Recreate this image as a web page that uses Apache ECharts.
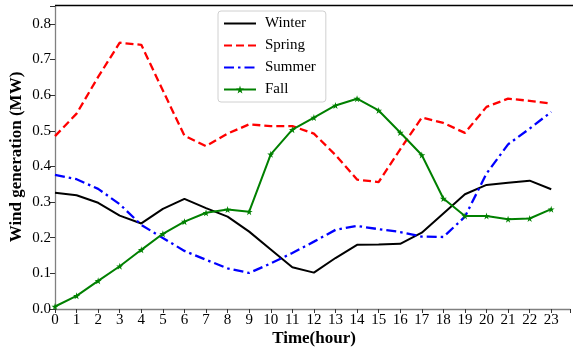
<!DOCTYPE html>
<html>
<head>
<meta charset="utf-8">
<script src="https://cdn.jsdelivr.net/npm/echarts@6/dist/echarts.min.js"></script>
<style>
html,body{margin:0;padding:0;background:#fff;}
#chart{width:573px;height:350px;}
</style>
</head>
<body>
<div id="chart"></div>
<script>
var hours = [0,1,2,3,4,5,6,7,8,9,10,11,12,13,14,15,16,17,18,19,20,21,22,23];
var winter = [0.326,0.319,0.298,0.262,0.240,0.281,0.309,0.283,0.259,0.217,0.167,0.117,0.102,0.143,0.180,0.181,0.183,0.214,0.268,0.322,0.348,0.354,0.360,0.336];
var spring = [0.485,0.548,0.651,0.747,0.741,0.613,0.486,0.457,0.492,0.518,0.513,0.513,0.492,0.432,0.363,0.356,0.448,0.537,0.522,0.494,0.567,0.590,0.584,0.576];
var summer = [0.376,0.364,0.337,0.294,0.236,0.199,0.163,0.138,0.114,0.101,0.128,0.157,0.189,0.222,0.233,0.224,0.216,0.203,0.202,0.259,0.380,0.462,0.506,0.553];
var fall = [0.007,0.037,0.079,0.120,0.166,0.211,0.245,0.270,0.279,0.273,0.434,0.503,0.537,0.571,0.590,0.557,0.495,0.432,0.310,0.261,0.261,0.252,0.254,0.280];
var seriesNames = ['Winter','Spring','Summer','Fall'];

function pairs(arr){ return hours.map(function(h,i){ return [h, arr[i]]; }); }
var star = 'path://M50,0 L61,35 L98,35 L68,57 L79,91 L50,70 L21,91 L32,57 L2,35 L39,35 Z';
var font = 'Liberation Serif';

var chart = echarts.init(document.getElementById('chart'), null, {renderer:'canvas'});
chart.setOption({
  animation:false,
  backgroundColor:'#fff',
  grid:{left:55, right:0, top:6, bottom:41},
  xAxis:{
    type:'value', min:0, max:23.87, interval:1,
    axisLine:{show:true, lineStyle:{color:'#808080', width:1.3}},
    axisTick:{show:true, inside:false, length:4, lineStyle:{color:'#333', width:1}},
    axisLabel:{color:'#000', fontFamily:font, fontSize:15, margin:4,
      formatter:function(v){ return Math.abs(v-Math.round(v))<1e-6 ? String(Math.round(v)) : ''; }},
    splitLine:{show:false}
  },
  yAxis:{
    type:'value', min:0, max:0.85, interval:0.1,
    axisLine:{show:true, lineStyle:{color:'#808080', width:1.3}},
    axisTick:{show:true, inside:false, length:5, lineStyle:{color:'#333', width:1}},
    axisLabel:{color:'#000', fontFamily:font, fontSize:15, margin:4,
      formatter:function(v){ return Math.abs(v*10-Math.round(v*10))<1e-6 ? v.toFixed(1) : ''; }},
    splitLine:{show:false}
  },
  legend:{
    left:218, top:11, orient:'vertical',
    itemWidth:32, itemHeight:10, itemGap:7,
    backgroundColor:'#fff', borderColor:'#d0d0d0', borderWidth:1, borderRadius:3,
    padding:[5,10,5,5],
    textStyle:{fontFamily:font, fontSize:15, color:'#000', padding:[0,0,0,4]},
    data:[
      {name:seriesNames[0], itemStyle:{opacity:0}},
      {name:seriesNames[1], itemStyle:{opacity:0}},
      {name:seriesNames[2], itemStyle:{opacity:0}},
      {name:seriesNames[3]}
    ]
  },
  graphic:[
    {type:'line', shape:{x1:55, y1:5.5, x2:573, y2:5.5}, style:{stroke:'#000', lineWidth:1.4}, z:10},
    {type:'text', style:{text:'Time(hour)', x:314, y:339, textAlign:'center', textVerticalAlign:'middle', font:'bold 17px "Liberation Serif"', fill:'#000'}},
    {type:'text', rotation:Math.PI/2, x:17, y:157, style:{text:'Wind generation (MW)', x:0, y:0, textAlign:'center', textVerticalAlign:'middle', font:'bold 17px "Liberation Serif"', fill:'#000'}}
  ],
  series:[
    {name:'Winter', type:'line', data:pairs(winter), symbol:'none', color:'#000',
      lineStyle:{color:'#000', width:2}},
    {name:'Spring', type:'line', data:pairs(spring), symbol:'none', color:'#ff0000',
      lineStyle:{color:'#ff0000', width:2.3, type:[8,4]}},
    {name:'Summer', type:'line', data:pairs(summer), symbol:'none', color:'#0000ff',
      lineStyle:{color:'#0000ff', width:2.3, type:[10,4,2.5,4]}},
    {name:'Fall', type:'line', data:pairs(fall), symbol:star, symbolSize:7, showSymbol:true, color:'#008000',
      itemStyle:{color:'#008000'},
      lineStyle:{color:'#008000', width:2}}
  ]
});
</script>
</body>
</html>
